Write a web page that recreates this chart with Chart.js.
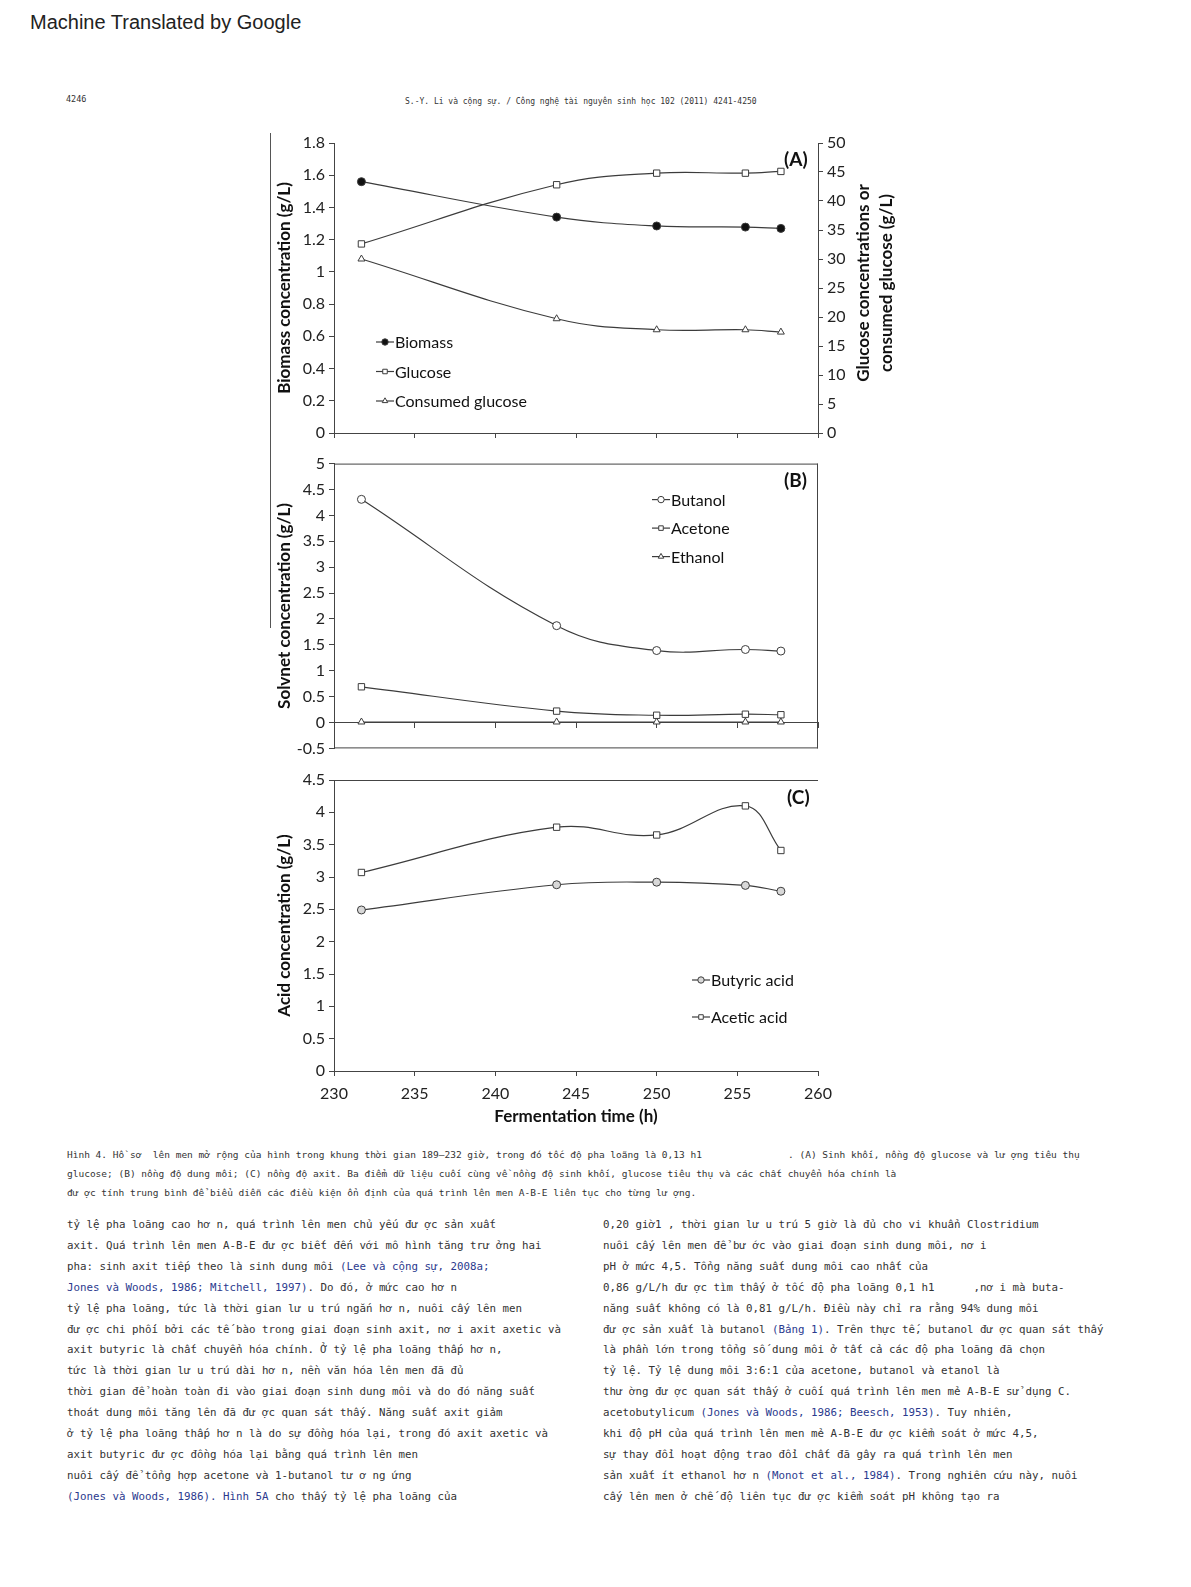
<!DOCTYPE html>
<html>
<head>
<meta charset="utf-8">
<script src="https://cdn.jsdelivr.net/npm/chart.js@4/dist/chart.umd.min.js"></script>
<style>
  body { margin: 0; background: #fff; }
  #page { position: relative; width: 1191px; height: 1587px; overflow: hidden; background: #fff; }
  .abs { position: absolute; white-space: pre; }
  .vline { position: absolute; width: 0; border-left: 1.2px solid #555; z-index: 5; }
  canvas { position: absolute; }
  .mono { font-family: "DejaVu Sans Mono", monospace; color: #333; }
  .cite { color: #2b3a8e; }
  .body { font-size: 10.8px; line-height: 20.9px; }
  .cap { font-size: 9.5px; line-height: 18.5px; }
  .plabel { font-family: Lato, sans-serif; font-weight: bold; font-size: 19px; color: #111; line-height: 22px; }
</style>
</head>
<body>
<div id="page">
  <div class="abs" style="left:30px; top:10px; font-family:'Liberation Sans', Arial, sans-serif; font-size:20px; line-height:24px; color:#222;">Machine Translated by Google</div>
  <div class="abs mono" style="left:66px; top:93px; font-size:8.5px; line-height:12px;">4246</div>
  <div class="abs mono" style="left:405px; top:96px; font-size:8px; line-height:12px;">S.-Y. Li và cộng sự. / Công nghệ tài nguyên sinh học 102 (2011) 4241-4250</div>

  <canvas id="chartA" width="640" height="320" style="left:262px; top:128px;"></canvas>
  <canvas id="chartB" width="580" height="312" style="left:262px; top:450px;"></canvas>
  <canvas id="chartC" width="580" height="365" style="left:262px; top:765px;"></canvas>

  <!-- stray scan line left of the y titles -->
  <div class="vline" style="left:270px; top:133px; height:310px;"></div>
  <div class="vline" style="left:270px; top:443px; height:185px;"></div>

  <div class="abs plabel" style="left:784px; top:148px;">(A)</div>
  <div class="abs plabel" style="left:784px; top:469px;">(B)</div>
  <div class="abs plabel" style="left:787px; top:786px;">(C)</div>

  <div class="abs" style="left:744px; top:260px; width:260px; height:46px; text-align:center; transform:rotate(-90deg); font-family:Lato, sans-serif; font-weight:bold; font-size:17px; line-height:23px; color:#111;">Glucose concentrations or
consumed glucose (g/L)</div>

  <div class="abs mono cap" style="left:67px; top:1146px;">Hình 4. Hồ sơ  lên men mở rộng của hình trong khung thời gian 189–232 giờ, trong đó tốc độ pha loãng là 0,13 h1</div>
  <div class="abs mono cap" style="left:788px; top:1146px;">. (A) Sinh khối, nồng độ glucose và lư ợng tiêu thụ</div>
  <div class="abs mono cap" style="left:67px; top:1165px;">glucose; (B) nồng độ dung môi; (C) nồng độ axit. Ba điểm dữ liệu cuối cùng về nồng độ sinh khối, glucose tiêu thụ và các chất chuyển hóa chính là
đư ợc tính trung bình để biểu diễn các điều kiện ổn định của quá trình lên men A-B-E liên tục cho từng lư ợng.</div>

  <div class="abs mono body" style="left:67px; top:1215px;">tỷ lệ pha loãng cao hơ n, quá trình lên men chủ yếu đư ợc sản xuất
axit. Quá trình lên men A-B-E đư ợc biết đến với mô hình tăng trư ởng hai
pha: sinh axit tiếp theo là sinh dung môi <span class="cite">(Lee và cộng sự, 2008a;</span>
<span class="cite">Jones và Woods, 1986; Mitchell, 1997)</span>. Do đó, ở mức cao hơ n
tỷ lệ pha loãng, tức là thời gian lư u trú ngắn hơ n, nuôi cấy lên men
đư ợc chi phối bởi các tế bào trong giai đoạn sinh axit, nơ i axit axetic và
axit butyric là chất chuyển hóa chính. Ở tỷ lệ pha loãng thấp hơ n,
tức là thời gian lư u trú dài hơ n, nền văn hóa lên men đã đủ
thời gian để hoàn toàn đi vào giai đoạn sinh dung môi và do đó năng suất
thoát dung môi tăng lên đã đư ợc quan sát thấy. Năng suất axit giảm
ở tỷ lệ pha loãng thấp hơ n là do sự đồng hóa lại, trong đó axit axetic và
axit butyric đư ợc đồng hóa lại bằng quá trình lên men
nuôi cấy để tổng hợp acetone và 1-butanol tư ơ ng ứng
<span class="cite">(Jones và Woods, 1986). Hình 5A</span> cho thấy tỷ lệ pha loãng của</div>

  <div class="abs mono body" style="left:603px; top:1215px;">0,20 giờ1 , thời gian lư u trú 5 giờ là đủ cho vi khuẩn Clostridium
nuôi cấy lên men để bư ớc vào giai đoạn sinh dung môi, nơ i
pH ở mức 4,5. Tổng năng suất dung môi cao nhất của
0,86 g/L/h đư ợc tìm thấy ở tốc độ pha loãng 0,1 h1      ,nơ i mà buta-
năng suất không có là 0,81 g/L/h. Điều này chỉ ra rằng 94% dung môi
đư ợc sản xuất là butanol <span class="cite">(Bảng 1)</span>. Trên thực tế, butanol đư ợc quan sát thấy
là phần lớn trong tổng số dung môi ở tất cả các độ pha loãng đã chọn
tỷ lệ. Tỷ lệ dung môi 3:6:1 của acetone, butanol và etanol là
thư ờng đư ợc quan sát thấy ở cuối quá trình lên men mẻ A-B-E sử dụng C.
acetobutylicum <span class="cite">(Jones và Woods, 1986; Beesch, 1953)</span>. Tuy nhiên,
khi độ pH của quá trình lên men mẻ A-B-E đư ợc kiểm soát ở mức 4,5,
sự thay đổi hoạt động trao đổi chất đã gây ra quá trình lên men
sản xuất ít ethanol hơ n <span class="cite">(Monot et al., 1984)</span>. Trong nghiên cứu này, nuôi
cấy lên men ở chế độ liên tục đư ợc kiểm soát pH không tạo ra</div>
</div>

<script>
// Fermentation time (h) of the sampling points, shared by all panels
const times = [231.7, 243.8, 250, 255.5, 257.7];

// Panel A
const biomass = [1.56, 1.34, 1.285, 1.278, 1.27];
const glucose = [32.6, 42.8, 44.8, 44.8, 45.1];
const consumedGlucose = [30.0, 19.7, 17.8, 17.8, 17.4];

// Panel B
const butanol = [4.31, 1.87, 1.39, 1.41, 1.38];
const acetone = [0.69, 0.22, 0.14, 0.16, 0.15];
const ethanol = [0.01, 0.01, 0.01, 0.01, 0.01];

// Panel C
const butyricAcid = [2.49, 2.88, 2.92, 2.87, 2.78];
const aceticAcid = [3.07, 3.77, 3.65, 4.10, 3.41];

const lineColor = '#3c3c3c';
const axisColor = '#444';
const font = 'Lato, sans-serif';

function points(values) {
  return values.map((v, i) => ({ x: times[i], y: v }));
}

function series(label, values, style, fill, axis) {
  return {
    label: label,
    data: points(values),
    yAxisID: axis || 'y',
    borderColor: lineColor,
    borderWidth: 1.2,
    tension: 0.4,
    pointStyle: style,
    pointRadius: style === 'rect' ? 4.5 : 4,
    pointBackgroundColor: fill,
    pointBorderColor: lineColor,
    pointBorderWidth: 1
  };
}

const fmt = v => String(Math.round(v * 10) / 10);

// legend drawn inside the plot, offsets from chart area
const inlineLegend = {
  id: 'inlineLegend',
  afterDraw(chart, args, opts) {
    const { ctx, chartArea } = chart;
    ctx.save();
    chart.data.datasets.forEach((ds, i) => {
      const x = chartArea.left + opts.dx;
      const y = chartArea.top + opts.dy + i * opts.step;
      ctx.strokeStyle = lineColor;
      ctx.lineWidth = 1.2;
      ctx.beginPath();
      ctx.moveTo(x - 9, y);
      ctx.lineTo(x + 9, y);
      ctx.stroke();
      ctx.fillStyle = ds.pointBackgroundColor;
      ctx.strokeStyle = lineColor;
      ctx.lineWidth = 1;
      Chart.helpers.drawPoint(ctx, { pointStyle: ds.pointStyle, radius: 3.2, rotation: 0, borderWidth: 1 }, x, y);
      ctx.fillStyle = '#111';
      ctx.font = '16px ' + font;
      ctx.textBaseline = 'middle';
      ctx.textAlign = 'left';
      ctx.fillText(ds.label, x + 10, y + 1);
    });
    ctx.restore();
  }
};

// extra frame sides around the plot area
const frame = {
  id: 'frame',
  afterDatasetsDraw(chart, args, opts) {
    const { ctx, chartArea: a } = chart;
    ctx.save();
    ctx.strokeStyle = axisColor;
    ctx.lineWidth = 1;
    ctx.beginPath();
    (opts.sides || []).forEach(s => {
      if (s === 'top') { ctx.moveTo(a.left, a.top + 0.5); ctx.lineTo(a.right, a.top + 0.5); }
      if (s === 'right') { ctx.moveTo(a.right - 0.5, a.top); ctx.lineTo(a.right - 0.5, a.bottom); }
      if (s === 'bottom') { ctx.moveTo(a.left, a.bottom - 0.5); ctx.lineTo(a.right, a.bottom - 0.5); }
    });
    ctx.stroke();
    ctx.restore();
  }
};

function yAxis(position, min, max, step, width, title) {
  return {
    position: position,
    min: min,
    max: max,
    afterFit: s => { s.width = width; },
    ticks: { stepSize: step, color: '#222', padding: 4, font: { family: font, size: 16 }, callback: fmt },
    grid: { drawOnChartArea: false, color: axisColor, tickLength: 5 },
    border: { color: axisColor },
    title: title ? { display: true, text: title, color: '#111', padding: { top: 12, bottom: 0 }, font: { family: font, size: 17, weight: 'bold' } } : { display: false }
  };
}

function baseOptions() {
  return {
    responsive: false,
    animation: false,
    devicePixelRatio: 1,
    plugins: { legend: { display: false }, tooltip: { enabled: false } }
  };
}

function initPanelA() {
  const opts = baseOptions();
  opts.layout = { padding: { top: 15, right: 0, bottom: 0, left: 0 } };
  opts.plugins.inlineLegend = { dx: 51, dy: 199, step: 29.5 };
  opts.scales = {
    x: {
      type: 'linear', min: 230, max: 260,
      afterFit: s => { s.height = 15; },
      ticks: { stepSize: 5, display: false },
      grid: { drawOnChartArea: false, color: axisColor, tickLength: 5 },
      border: { color: axisColor }
    },
    y: yAxis('left', 0, 1.8, 0.2, 72, 'Biomass concentration (g/L)'),
    y2: yAxis('right', 0, 50, 5, 84, null)
  };
  new Chart(document.getElementById('chartA'), {
    type: 'line',
    data: {
      datasets: [
        series('Biomass', biomass, 'circle', '#111', 'y'),
        series('Glucose', glucose, 'rect', '#fff', 'y2'),
        series('Consumed glucose', consumedGlucose, 'triangle', '#fff', 'y2')
      ]
    },
    options: opts,
    plugins: [inlineLegend]
  });
}

function initPanelB() {
  const opts = baseOptions();
  opts.layout = { padding: { top: 10, right: 24, bottom: 10, left: 0 } };
  opts.plugins.inlineLegend = { dx: 327, dy: 36, step: 28.5 };
  opts.plugins.frame = { sides: ['top', 'right', 'bottom'] };
  opts.scales = {
    x: {
      type: 'linear', min: 230, max: 260,
      position: { y: 0 },
      ticks: { stepSize: 5, display: false },
      grid: { drawOnChartArea: false, color: axisColor, tickLength: 5 },
      border: { color: axisColor }
    },
    y: yAxis('left', -0.5, 5, 0.5, 72, 'Solvnet concentration (g/L)')
  };
  new Chart(document.getElementById('chartB'), {
    type: 'line',
    data: {
      datasets: [
        series('Butanol', butanol, 'circle', '#fff'),
        series('Acetone', acetone, 'rect', '#fff'),
        series('Ethanol', ethanol, 'triangle', '#fff')
      ]
    },
    options: opts,
    plugins: [inlineLegend, frame]
  });
}

function initPanelC() {
  const opts = baseOptions();
  opts.layout = { padding: { top: 15, right: 24, bottom: 0, left: 0 } };
  opts.plugins.inlineLegend = { dx: 367, dy: 200, step: 37 };
  opts.plugins.frame = { sides: ['top'] };
  opts.scales = {
    x: {
      type: 'linear', min: 230, max: 260,
      afterFit: s => { s.height = 59; },
      ticks: { stepSize: 5, color: '#222', padding: 8, font: { family: font, size: 16 } },
      grid: { drawOnChartArea: false, color: axisColor, tickLength: 5 },
      border: { color: axisColor },
      title: { display: true, text: 'Fermentation time (h)', color: '#111', padding: { top: 0, bottom: 3 }, font: { family: font, size: 17, weight: 'bold' } }
    },
    y: yAxis('left', 0, 4.5, 0.5, 72, 'Acid concentration (g/L)')
  };
  new Chart(document.getElementById('chartC'), {
    type: 'line',
    data: {
      datasets: [
        series('Butyric acid', butyricAcid, 'circle', '#d8d8d8'),
        series('Acetic acid', aceticAcid, 'rect', '#fff')
      ]
    },
    options: opts,
    plugins: [inlineLegend, frame]
  });
}

Promise.all([
  document.fonts.load('16px Lato'),
  document.fonts.load('bold 17px Lato')
]).catch(() => {}).then(() => {
  initPanelA();
  initPanelB();
  initPanelC();
});
</script>
</body>
</html>
